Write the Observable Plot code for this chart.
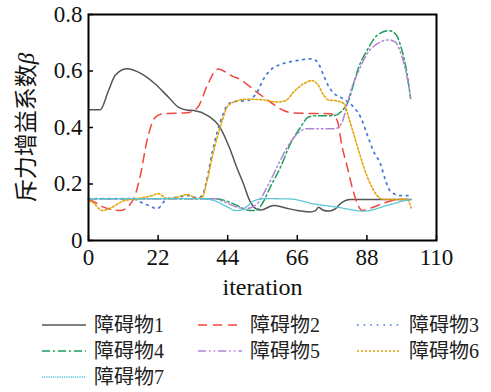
<!DOCTYPE html>
<html>
<head>
<meta charset="utf-8">
<script src="https://cdn.jsdelivr.net/npm/d3@7"></script>
<script src="https://cdn.jsdelivr.net/npm/@observablehq/plot@0.6"></script>
<style>
  body { margin: 0; background: #fff; }
  #chart { width: 491px; }
  #chart > svg { display: block; }
  .legend {
    position: relative;
    height: 90px;
    font-family: "Liberation Serif", "Noto Sans CJK SC", serif;
    font-size: 20px;
    color: #222;
  }
  .legend .item { position: absolute; display: flex; align-items: center; height: 24px; line-height: 24px; }
  .legend svg { margin-right: 8px; }
</style>
</head>
<body>
<div id="chart"></div>
<script>
// Repulsion gain coefficient β of each obstacle over the iterations: [iteration, β]
const obstacle1 = [[0,0.463],[3.7,0.463],[6.3,0.53],[8.4,0.584],[12,0.608],[16.8,0.59],[21,0.555],[25.3,0.507],[28.4,0.472],[31,0.462],[33.3,0.46],[37.5,0.443],[41.7,0.398],[44.5,0.33],[47,0.255],[49,0.2],[51,0.14],[53,0.112],[54.5,0.108],[58.5,0.124],[62,0.116],[66,0.106],[70,0.101],[71.8,0.106],[72.7,0.118],[74,0.108],[76,0.104],[78,0.112],[79.6,0.13],[82.8,0.145],[102,0.145]];
const obstacle2 = [[0,0.145],[1.2,0.14],[4.8,0.118],[10,0.106],[13.3,0.13],[14.9,0.166],[16.4,0.23],[18.5,0.354],[21.2,0.437],[23.8,0.449],[31,0.452],[34.4,0.47],[37.6,0.55],[40,0.6],[41,0.607],[45.8,0.58],[47,0.575],[53.8,0.52],[57.5,0.49],[61.7,0.46],[65,0.451],[69,0.45],[76.5,0.449],[78.6,0.425],[80.2,0.33],[81.8,0.26],[83.3,0.19],[85,0.13],[86.5,0.106],[90,0.118],[94.4,0.136],[98.6,0.145],[102,0.145]];
const obstacle3 = [[0,0.148],[14,0.148],[16.4,0.136],[19,0.124],[21.7,0.113],[24.9,0.148],[28,0.153],[32.2,0.159],[34.4,0.15],[36,0.16],[37.5,0.22],[39.1,0.31],[40.7,0.385],[42.3,0.44],[43.8,0.478],[46,0.492],[50,0.495],[53.3,0.525],[55.4,0.573],[58,0.608],[60.7,0.623],[66,0.637],[70.7,0.643],[72.7,0.626],[74.3,0.585],[75.9,0.545],[77.5,0.522],[80.7,0.5],[83.8,0.472],[86,0.437],[88,0.378],[90,0.318],[92.3,0.27],[93.9,0.212],[95.4,0.175],[98.6,0.159],[102,0.159]];
const obstacle4 = [[0,0.148],[40,0.148],[44,0.138],[47,0.124],[50,0.108],[52.8,0.106],[54.9,0.13],[57.5,0.19],[60.7,0.26],[63.8,0.342],[67,0.4],[69.5,0.437],[72.3,0.442],[77.5,0.442],[80.7,0.467],[82.2,0.495],[83.8,0.555],[85.4,0.613],[88,0.672],[91.2,0.726],[94.9,0.743],[97,0.732],[99.1,0.672],[100.7,0.59],[101.8,0.503]];
const obstacle5 = [[0,0.148],[40,0.148],[43,0.136],[47,0.118],[49.5,0.113],[51,0.115],[53.3,0.13],[56.5,0.19],[59.6,0.26],[62.8,0.33],[66,0.378],[69,0.396],[78,0.396],[80.2,0.42],[81.8,0.485],[83.3,0.543],[85.4,0.6],[88,0.66],[91.2,0.696],[94.9,0.71],[97,0.702],[99.1,0.65],[100.7,0.578],[101.8,0.507]];
const obstacle6 = [[0,0.14],[1.2,0.136],[4.3,0.106],[7.5,0.118],[11,0.14],[15.4,0.148],[20.1,0.159],[22.1,0.166],[24.9,0.148],[28,0.153],[31.2,0.163],[34.4,0.148],[35.9,0.153],[37.5,0.212],[39.1,0.295],[40.7,0.366],[42.3,0.425],[43.8,0.472],[45.9,0.49],[50,0.5],[55,0.498],[59.6,0.49],[62.3,0.495],[64.8,0.525],[68,0.555],[70.7,0.566],[72.7,0.548],[74.3,0.515],[75.9,0.497],[78,0.495],[80.7,0.485],[82.2,0.437],[83.8,0.378],[85.4,0.318],[87,0.26],[89.1,0.2],[91.2,0.159],[93.3,0.145],[100.7,0.145],[102,0.115]];
const obstacle7 = [[0,0.148],[36.4,0.148],[40,0.14],[44,0.118],[46.5,0.106],[48,0.107],[50,0.12],[52.2,0.14],[55.4,0.148],[63.8,0.147],[71,0.13],[78.6,0.118],[87,0.104],[94.4,0.124],[99.6,0.14],[102,0.145]];

const seriesNames = ["障碍物1", "障碍物2", "障碍物3", "障碍物4", "障碍物5", "障碍物6", "障碍物7"];
const seriesData = [obstacle1, obstacle2, obstacle3, obstacle4, obstacle5, obstacle6, obstacle7];

const xTicks = [0, 22, 44, 66, 88, 110];
const yTicks = [0, 0.2, 0.4, 0.6, 0.8];
const xTitle = "iteration";
const yTitle = "斥力增益系数";
const yTitleSymbol = "β";

// Line styling for each obstacle
const seriesStyles = [
  {stroke: "#555555", dash: null, width: 1.5},
  {stroke: "#f2473f", dash: "9,6", width: 1.5},
  {stroke: "#4678d8", dash: "1.6,5", width: 1.8},
  {stroke: "#1d9e5c", dash: "8,3,2,3", width: 1.5},
  {stroke: "#b183d6", dash: "8,3,1.6,3,1.6,3", width: 1.5},
  {stroke: "#e5a50d", dash: "2,2", width: 1.6},
  {stroke: "#58c6d2", dash: "1.2,1", width: 1.3}
];

const lines = seriesData.map((pts, i) => Plot.line(pts, {
  x: d => d[0],
  y: d => d[1],
  stroke: seriesStyles[i].stroke,
  strokeWidth: seriesStyles[i].width,
  strokeDasharray: seriesStyles[i].dash,
  curve: "monotone-x"
}));

const plot = Plot.plot({
  width: 491,
  height: 300,
  marginLeft: 88,
  marginRight: 55,
  marginTop: 14,
  marginBottom: 60,
  style: {fontFamily: "'Liberation Serif', 'Noto Sans CJK SC', serif", fontSize: "23px", color: "#111", background: "#fff"},
  x: {domain: [0, 110]},
  y: {domain: [0, 0.8]},
  marks: [
    ...lines,
    Plot.axisX({ticks: xTicks, tickSize: 0, tickPadding: 8, label: null, tickFormat: d3.format("~g")}),
    Plot.axisY({ticks: yTicks, tickSize: 0, tickPadding: 6, label: null, tickFormat: d3.format("~g")}),
    // inward tick marks
    Plot.tickX(xTicks, {x: d => d, insetTop: 221, stroke: "#000", strokeWidth: 1.5}),
    Plot.tickY(yTicks, {y: d => d, insetRight: 343, stroke: "#000", strokeWidth: 1.5}),
    Plot.frame({stroke: "#000", strokeWidth: 2}),
    Plot.text([xTitle], {frameAnchor: "bottom", dy: 47, lineAnchor: "middle", text: d => d, fontSize: 24, fill: "#111"}),
    Plot.text([yTitle + yTitleSymbol], {frameAnchor: "left", dx: -62, rotate: -90, textAnchor: "middle", lineAnchor: "middle", text: d => d, fontSize: 23, fill: "#111"})
  ]
});

// set the trailing β of the y title in italics
d3.select(plot).selectAll("text")
  .filter(function() { return this.textContent === yTitle + yTitleSymbol; })
  .each(function() {
    const t = d3.select(this);
    t.text(null);
    t.append("tspan").text(yTitle);
    t.append("tspan").attr("font-style", "italic").text(yTitleSymbol);
  });

const chart = document.getElementById("chart");
chart.appendChild(plot);

// Legend below the plot: three columns
const legend = document.createElement("div");
legend.className = "legend";
const colLeft = [42, 198, 357];
seriesNames.forEach((name, i) => {
  const item = document.createElement("div");
  item.className = "item";
  item.style.left = colLeft[i % 3] + "px";
  item.style.top = (13 + Math.floor(i / 3) * 26) + "px";
  const sw = d3.create("svg").attr("width", 44).attr("height", 10);
  sw.append("line")
    .attr("x1", 0).attr("x2", 44).attr("y1", 5).attr("y2", 5)
    .attr("stroke", seriesStyles[i].stroke)
    .attr("stroke-width", 1.3)
    .attr("stroke-dasharray", seriesStyles[i].dash);
  item.appendChild(sw.node());
  const label = document.createElement("span");
  label.textContent = name;
  item.appendChild(label);
  legend.appendChild(item);
});
chart.appendChild(legend);
</script>
</body>
</html>
